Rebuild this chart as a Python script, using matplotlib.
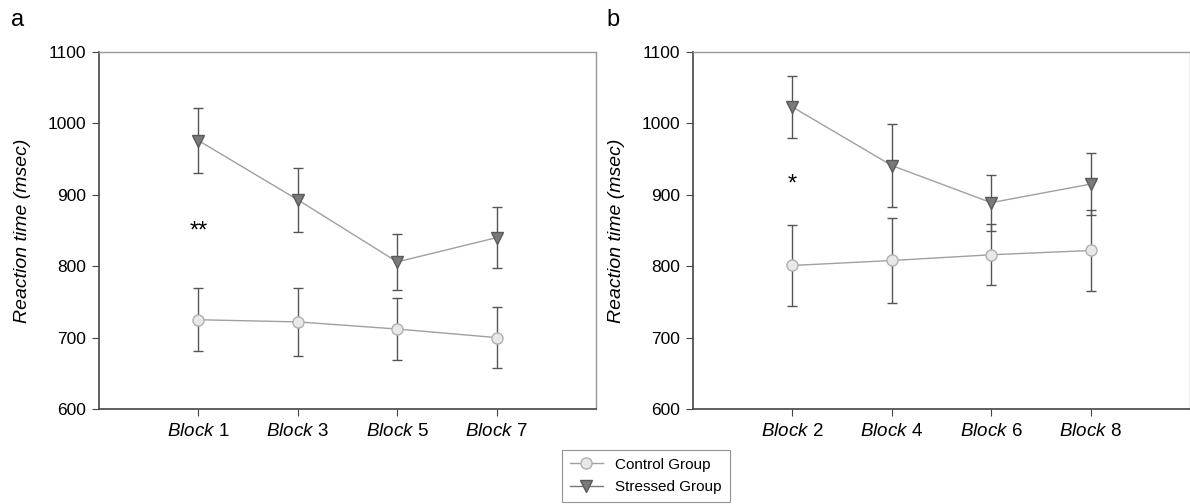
import matplotlib
matplotlib.use("Agg")
import matplotlib.pyplot as plt
from matplotlib.lines import Line2D

plt.rcParams['font.family'] = ['Liberation Sans', 'DejaVu Sans']
plt.rcParams['mathtext.fontset'] = 'custom'
plt.rcParams['mathtext.rm'] = 'Liberation Sans'
plt.rcParams['mathtext.it'] = 'Liberation Sans:italic'

# Panel a
blocks_a = ["1", "3", "5", "7"]
control_a = [725, 722, 712, 700]
control_a_err = [44, 48, 44, 43]
stressed_a = [976, 893, 806, 840]
stressed_a_err = [46, 45, 39, 43]

# Panel b
blocks_b = ["2", "4", "6", "8"]
control_b = [801, 808, 816, 822]
control_b_err = [57, 60, 43, 57]
stressed_b = [1023, 941, 889, 915]
stressed_b_err = [43, 58, 39, 43]

sig_a = ("**", 1, 848)
sig_b = ("*", 1, 915)

W, H = 1190, 504
fig = plt.figure(figsize=(W / 100, H / 100), dpi=100)

def add_ax(left, right, top, bottom):
    return fig.add_axes([left / W, 1 - bottom / H, (right - left) / W, (bottom - top) / H])

ax_a = add_ax(99, 596, 52, 409)
ax_b = add_ax(693, 1190, 52, 409)

line_col = '#a0a0a0'
err_col = '#555555'

def draw(ax, blocks, ctrl, ctrl_err, strs, strs_err, sig):
    x = list(range(1, len(blocks) + 1))
    ax.errorbar(x, strs, yerr=strs_err, color=line_col, lw=1.0, marker='v', ms=8,
                mfc='#7a7a7a', mec='#5a5a5a', ecolor=err_col, elinewidth=1.0,
                capsize=3.5, capthick=1.0, zorder=3)
    ax.errorbar(x, ctrl, yerr=ctrl_err, color=line_col, lw=1.0, marker='o', ms=8,
                mfc='#e8e8e8', mec='#b0b0b0', ecolor=err_col, elinewidth=1.0,
                capsize=3.5, capthick=1.0, zorder=3)
    ax.text(sig[1], sig[2], sig[0], ha='center', va='center', fontsize=17)
    ax.set_xlim(0, 5)
    ax.set_ylim(600, 1100)
    ax.set_yticks([600, 700, 800, 900, 1000, 1100])
    ax.set_xticks(x)
    ax.set_xticklabels([r"$\it{Block}$ " + b for b in blocks], fontsize=13.5)
    ax.tick_params(axis='y', labelsize=12.5, direction='out', length=5, color='#444444', pad=4)
    ax.tick_params(axis='x', direction='out', length=5, color='#444444', pad=5)
    for s in ['left', 'bottom']:
        ax.spines[s].set_color('#444444')
        ax.spines[s].set_linewidth(1.2)
    for s in ['top', 'right']:
        ax.spines[s].set_color('#999999')
        ax.spines[s].set_linewidth(1.0)
    ax.set_ylabel("Reaction time (msec)", fontsize=14, style='italic', labelpad=12)

draw(ax_a, blocks_a, control_a, control_a_err, stressed_a, stressed_a_err, sig_a)
draw(ax_b, blocks_b, control_b, control_b_err, stressed_b, stressed_b_err, sig_b)

fig.text(18 / W, 1 - 20 / H, "a", fontsize=17, ha='center', va='center')
fig.text(613 / W, 1 - 20 / H, "b", fontsize=17, ha='center', va='center')

handles = [
    Line2D([], [], color=line_col, lw=1.0, marker='o', ms=8, mfc='#e8e8e8', mec='#b0b0b0'),
    Line2D([], [], color='#777777', lw=1.0, marker='v', ms=8, mfc='#7a7a7a', mec='#5a5a5a'),
]
leg = fig.legend(handles, ["Control Group", "Stressed Group"], loc='upper left',
                 bbox_to_anchor=(562 / W, 1 - 450 / H), fontsize=11, frameon=True,
                 fancybox=False, edgecolor='#777777', handlelength=2.2,
                 borderaxespad=0, labelspacing=0.55, borderpad=0.5, handletextpad=0.8)
leg.get_frame().set_linewidth(0.8)

fig.savefig("out.png", dpi=100)
